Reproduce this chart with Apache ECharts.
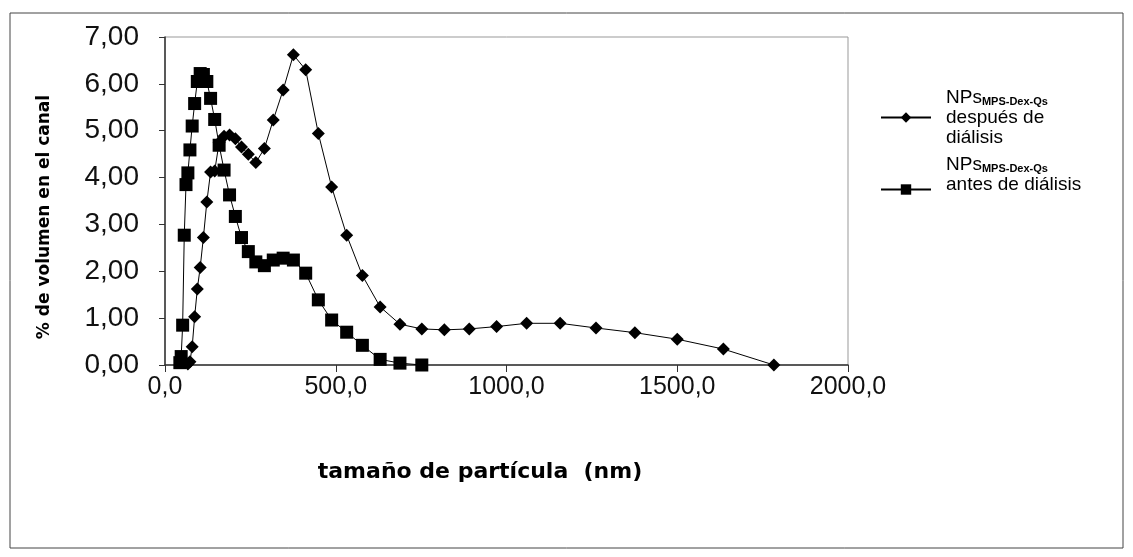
<!DOCTYPE html>
<html>
<head>
<meta charset="utf-8">
<script src="https://cdn.jsdelivr.net/npm/echarts@6/dist/echarts.min.js"></script>
<style>
  html, body { margin: 0; padding: 0; background: #fff; }
  #chart { width: 1133px; height: 557px; }
</style>
</head>
<body>
<div id="chart"></div>
<script>
// tamaño de partícula (nm) y % de volumen
const despuesX = [67, 73, 79.6, 86.8, 94.6, 103, 112.4, 122.5, 133.5, 145.5, 158.5, 173, 189, 206, 224, 244, 266, 291, 317, 346, 376, 412, 449, 488, 532, 578, 630, 688, 752, 818, 891, 971, 1059, 1157, 1262, 1376, 1500, 1635, 1783];
const despuesY = [0.02, 0.07, 0.39, 1.03, 1.62, 2.08, 2.72, 3.48, 4.12, 4.14, 4.75, 4.88, 4.91, 4.83, 4.65, 4.5, 4.32, 4.62, 5.23, 5.87, 6.62, 6.3, 4.94, 3.8, 2.77, 1.91, 1.24, 0.87, 0.77, 0.75, 0.77, 0.82, 0.89, 0.89, 0.79, 0.69, 0.55, 0.34, 0.0];
const antesX = [43.5, 47.4, 51.7, 56.4, 61.5, 67, 73, 79.6, 86.8, 94.6, 103, 112.4, 122.5, 133.5, 145.5, 158.5, 173, 189, 206, 224, 244, 266, 291, 317, 346, 376, 412, 449, 488, 532, 578, 630, 688, 752];
const antesY = [0.05, 0.18, 0.85, 2.77, 3.85, 4.1, 4.59, 5.1, 5.58, 6.05, 6.22, 6.2, 6.05, 5.69, 5.24, 4.69, 4.16, 3.63, 3.17, 2.72, 2.42, 2.2, 2.12, 2.24, 2.28, 2.24, 1.96, 1.39, 0.96, 0.7, 0.42, 0.12, 0.04, 0.0];

const chart = echarts.init(document.getElementById("chart"));

// texto de la leyenda (rich text)
const richLeyenda = {
  n: { fontSize: 19, lineHeight: 20, color: "#000", fontFamily: "Liberation Sans" },
  s: { fontSize: 11, lineHeight: 20, color: "#000", fontWeight: "bold", fontFamily: "Liberation Sans", verticalAlign: "bottom" }
};

const option = {
  backgroundColor: "#fff",
  animation: false,
  textStyle: { fontFamily: "Liberation Sans" },
  graphic: [
    {
      type: "rect",
      shape: { x: 10, y: 13, width: 1113, height: 535 },
      style: { fill: "none", stroke: "#444", lineWidth: 1 }
    },
    {
      type: "text",
      x: 45, y: 217, rotation: Math.PI / 2,
      style: {
        text: "% de volumen en el canal",
        font: "bold 17px 'DejaVu Sans'",
        fill: "#000",
        align: "center",
        verticalAlign: "middle"
      }
    },
    {
      type: "text",
      x: 480, y: 472,
      style: {
        text: "tamaño de partícula  (nm)",
        font: "bold 22px 'DejaVu Sans'",
        fill: "#000",
        align: "center",
        verticalAlign: "middle"
      }
    }
  ],
  grid: {
    left: 165, right: 285, top: 37, bottom: 192,
    show: true, borderColor: "#999", borderWidth: 1
  },
  legend: [
    {
      orient: "vertical",
      left: 875, top: 83,
      itemWidth: 50, itemHeight: 13,
      data: ["despues"],
      formatter: "{n|NPs}{s|MPS-Dex-Qs}\n{n|después de}\n{n|diálisis}",
      textStyle: { padding: [0, 0, 0, 10], rich: richLeyenda }
    },
    {
      orient: "vertical",
      left: 875, top: 150,
      itemWidth: 50, itemHeight: 13,
      data: ["antes"],
      formatter: "{n|NPs}{s|MPS-Dex-Qs}\n{n|antes de diálisis}",
      textStyle: { padding: [0, 0, 30, 10], rich: richLeyenda }
    }
  ],
  xAxis: {
    type: "value",
    min: 0, max: 2000, interval: 500,
    axisLine: { show: true, onZero: false, lineStyle: { color: "#333", width: 1.5 } },
    axisTick: { show: true, length: 7, lineStyle: { color: "#333" } },
    splitLine: { show: false },
    axisLabel: {
      margin: 10,
      fontSize: 25,
      color: "#111",
      formatter: function (v) { return v.toFixed(1).replace(".", ","); }
    }
  },
  yAxis: {
    type: "value",
    min: 0, max: 7, interval: 1,
    axisLine: { show: true, lineStyle: { color: "#333", width: 1.5 } },
    axisTick: { show: true, length: 6, lineStyle: { color: "#333" } },
    splitLine: { show: false },
    axisLabel: {
      margin: 26,
      fontSize: 28,
      color: "#111",
      formatter: function (v) { return v.toFixed(2).replace(".", ","); }
    }
  },
  series: [
    {
      name: "despues",
      type: "line",
      data: despuesX.map((x, i) => [x, despuesY[i]]),
      symbol: "diamond",
      symbolSize: 13,
      lineStyle: { color: "#000", width: 1 },
      itemStyle: { color: "#000" }
    },
    {
      name: "antes",
      type: "line",
      data: antesX.map((x, i) => [x, antesY[i]]),
      symbol: "rect",
      symbolSize: 13,
      lineStyle: { color: "#000", width: 1 },
      itemStyle: { color: "#000" }
    }
  ]
};

chart.setOption(option);
</script>
</body>
</html>
